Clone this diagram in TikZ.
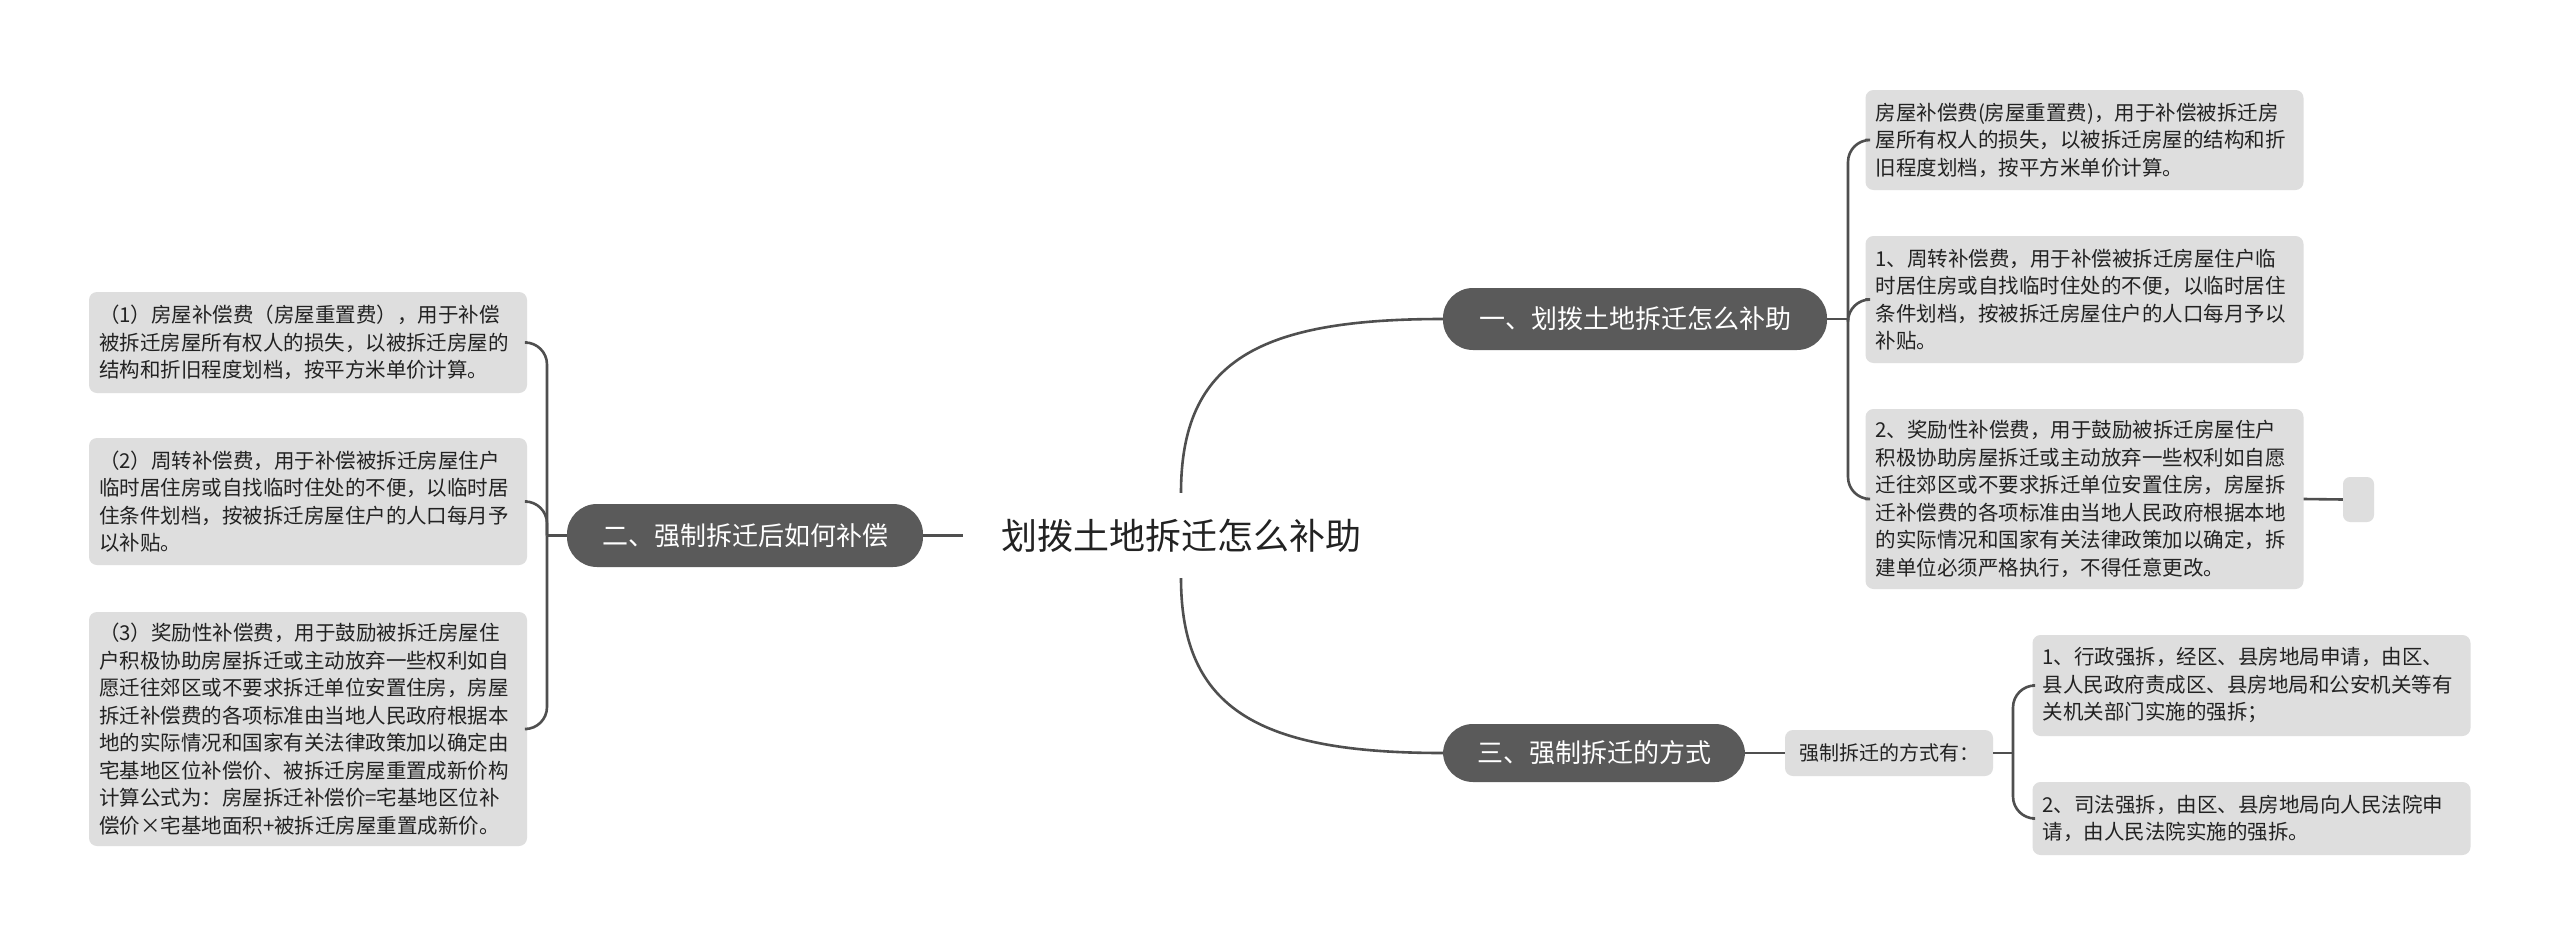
\documentclass[tikz,border=0pt]{standalone}
\usepackage{fontspec}
\setmainfont{Noto Sans CJK SC}
\definecolor{pillgray}{HTML}{5A5A5A}
\definecolor{leafgray}{HTML}{DEDEDE}
\definecolor{linegray}{HTML}{4F4F4F}
\definecolor{textdark}{HTML}{222222}
\begin{document}
\begin{tikzpicture}[x=1pt,y=-1pt,
  leaf/.style={fill=leafgray, rounded corners=8pt, inner xsep=10pt, inner ysep=0pt, align=left, text width=418pt, font=\fontsize{20.5}{27.5}\selectfont, text=textdark},
  pill/.style={fill=pillgray, rounded corners=30pt, text=white, font=\fontsize{26}{30}\selectfont, inner sep=0pt},
  conn/.style={draw=linegray, line width=2.6pt},
  brace/.style={conn, rounded corners=22pt}]
\useasboundingbox (0,0) rectangle (2560,945);
\fill[white] (0,0) rectangle (2560,945);

\node[minimum width=436pt, minimum height=85pt, inner sep=0pt, font=\fontsize{36}{40}\selectfont, text=textdark] (root) at (1181,535.5) {划拨土地拆迁怎么补助};

\node[pill, minimum width=384pt, minimum height=62pt] (p1) at (1635,319) {一、划拨土地拆迁怎么补助};
\node[pill, minimum width=356pt, minimum height=63pt] (p2) at (745,535.5) {二、强制拆迁后如何补偿};
\node[pill, minimum width=302pt, minimum height=58pt] (p3) at (1594,753) {三、强制拆迁的方式};

\node[fill=leafgray, rounded corners=8pt, inner sep=0pt, minimum width=208pt, minimum height=46pt, font=\fontsize{20}{24}\selectfont, text=textdark] (mid) at (1889,753) {强制拆迁的方式有：};

\node[leaf, minimum height=101pt] (L1) at (308,342.5) {（1）房屋补偿费（房屋重置费），用于补偿\\被拆迁房屋所有权人的损失，以被拆迁房屋的\\结构和折旧程度划档，按平方米单价计算。};
\node[leaf, minimum height=127pt] (L2) at (308,501.5) {（2）周转补偿费，用于补偿被拆迁房屋住户\\临时居住房或自找临时住处的不便，以临时居\\住条件划档，按被拆迁房屋住户的人口每月予\\以补贴。};
\node[leaf, minimum height=234pt] (L3) at (308,729) {（3）奖励性补偿费，用于鼓励被拆迁房屋住\\户积极协助房屋拆迁或主动放弃一些权利如自\\愿迁往郊区或不要求拆迁单位安置住房，房屋\\拆迁补偿费的各项标准由当地人民政府根据本\\地的实际情况和国家有关法律政策加以确定由\\宅基地区位补偿价、被拆迁房屋重置成新价构\\计算公式为：房屋拆迁补偿价=宅基地区位补\\偿价×宅基地面积+被拆迁房屋重置成新价。};

\node[leaf, minimum height=100pt] (R1) at (2084.5,140) {房屋补偿费(房屋重置费)，用于补偿被拆迁房\\屋所有权人的损失，以被拆迁房屋的结构和折\\旧程度划档，按平方米单价计算。};
\node[leaf, minimum height=127pt] (R2) at (2084.5,299.5) {1、周转补偿费，用于补偿被拆迁房屋住户临\\时居住房或自找临时住处的不便，以临时居住\\条件划档，按被拆迁房屋住户的人口每月予以\\补贴。};
\node[leaf, minimum height=180pt] (R3) at (2084.5,499) {2、奖励性补偿费，用于鼓励被拆迁房屋住户\\积极协助房屋拆迁或主动放弃一些权利如自愿\\迁往郊区或不要求拆迁单位安置住房，房屋拆\\迁补偿费的各项标准由当地人民政府根据本地\\的实际情况和国家有关法律政策加以确定，拆\\建单位必须严格执行，不得任意更改。};
\node[fill=leafgray, rounded corners=7pt, inner sep=0pt, minimum width=31pt, minimum height=45pt] (E) at (2358.5,499.5) {};

\node[leaf, minimum height=101pt] (RB1) at (2251.5,685.5) {1、行政强拆，经区、县房地局申请，由区、\\县人民政府责成区、县房地局和公安机关等有\\关机关部门实施的强拆；};
\node[leaf, minimum height=73pt] (RB2) at (2251.5,818.5) {2、司法强拆，由区、县房地局向人民法院申\\请，由人民法院实施的强拆。};

% connectors
\draw[conn] (root.north) .. controls (1181,360) and (1260,319) .. (p1.west);
\draw[conn] (root.south) .. controls (1181,710) and (1260,753) .. (p3.west);
\draw[conn] (root.west) -- (p2.east);

\coordinate (j1) at (1848,319);
\draw[conn] (p1.east) -- (j1);
\draw[brace] (j1) |- (R1.west);
\draw[brace] (j1) |- (R2.west);
\draw[brace] (j1) |- (R3.west);
\draw[conn] (R3.east) -- (E.west);

\coordinate (j2) at (547,535.5);
\draw[conn] (p2.west) -- (j2);
\draw[brace] (j2) |- (L1.east);
\draw[brace] (j2) |- (L2.east);
\draw[brace] (j2) |- (L3.east);

\coordinate (j3) at (2013,753);
\draw[conn] (p3.east) -- (mid.west);
\draw[conn] (mid.east) -- (j3);
\draw[brace] (j3) |- (RB1.west);
\draw[brace] (j3) |- (RB2.west);
\end{tikzpicture}
\end{document}
